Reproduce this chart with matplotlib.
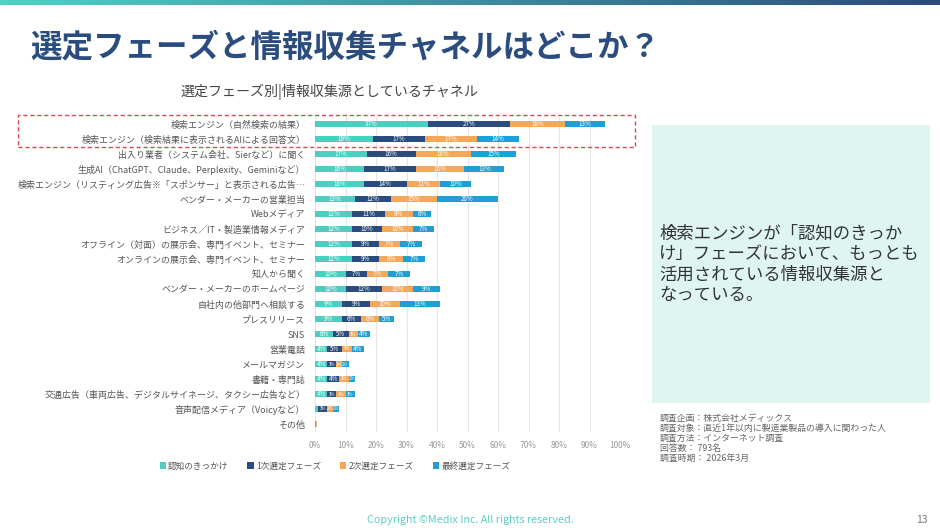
import numpy as np
import matplotlib
matplotlib.use("Agg")
import matplotlib.pyplot as plt
from matplotlib.patches import Rectangle
from matplotlib.colors import LinearSegmentedColormap

plt.rcParams["font.family"] = ["Noto Sans CJK JP", "DejaVu Sans"]

# --- data ---
channels = [
    "検索エンジン（自然検索の結果）",
    "検索エンジン（検索結果に表示されるAIによる回答文）",
    "出入り業者（システム会社、Sierなど）に聞く",
    "生成AI（ChatGPT、Claude、Perplexity、Geminiなど）",
    "検索エンジン（リスティング広告※「スポンサー」と表示される広告…",
    "ベンダー・メーカーの営業担当",
    "Webメディア",
    "ビジネス／IT・製造業情報メディア",
    "オフライン（対面）の展示会、専門イベント、セミナー",
    "オンラインの展示会、専門イベント、セミナー",
    "知人から聞く",
    "ベンダー・メーカーのホームページ",
    "自社内の他部門へ相談する",
    "プレスリリース",
    "SNS",
    "営業電話",
    "メールマガジン",
    "書籍・専門誌",
    "交通広告（車両広告、デジタルサイネージ、タクシー広告など）",
    "音声配信メディア（Voicyなど）",
    "その他",
]
phases = ["認知のきっかけ", "1次選定フェーズ", "2次選定フェーズ", "最終選定フェーズ"]
ninchi = [37, 19, 17, 16, 16, 13, 12, 12, 12, 12, 10, 10, 9, 9, 6, 4, 4, 4, 4, 1, 0.3]
first_sel = [27, 17, 16, 17, 14, 12, 11, 10, 9, 9, 7, 12, 9, 6, 5, 5, 3, 4, 3, 3, 0.1]
second_sel = [18, 17, 18, 16, 11, 15, 9, 10, 7, 8, 7, 10, 10, 6, 3, 3, 2, 3, 3, 2, 0.1]
final_sel = [13, 14, 15, 13, 10, 20, 6, 7, 7, 7, 7, 9, 13, 5, 4, 4, 2, 2, 3, 2, 0.1]
xticks = [0, 10, 20, 30, 40, 50, 60, 70, 80, 90, 100]

series = [ninchi, first_sel, second_sel, final_sel]
colors = ["#4ccfc0", "#2b4c7e", "#f5a85a", "#1f9fd5"]

W, H = 940, 528
fig = plt.figure(figsize=(W / 100, H / 100), dpi=100)
fig.patch.set_facecolor("white")

# top gradient band
band = fig.add_axes([0, 1 - 5 / H, 1, 5 / H])
band.imshow(np.linspace(0, 1, 256).reshape(1, -1), aspect="auto",
            cmap=LinearSegmentedColormap.from_list("g", ["#4fd1c5", "#2c4a7c"]))
band.axis("off")

fig.text(30 / W, 1 - 47 / H, "選定フェーズと情報収集チャネルはどこか？", fontsize=22.7,
         fontweight="bold", color="#2b4c7e", va="center", ha="left")
fig.text(329 / W, 1 - 92 / H, "選定フェーズ別|情報収集源としているチャネル", fontsize=10.1,
         color="#444444", va="center", ha="center")

# main chart
ax = fig.add_axes([315 / W, 1 - 431.5 / H, 305 / W, 315 / H])
y = np.arange(len(channels))
left = np.zeros(len(channels))
for vals, col, name in zip(series, colors, phases):
    vals = np.array(vals, dtype=float)
    bars = ax.barh(y, vals, left=left, height=0.45, color=col, label=name, zorder=3)
    for b, v in zip(bars, vals):
        if v >= 2:
            fs = 4.5 if v >= 4 else 3.2
            ax.text(b.get_x() + b.get_width() / 2, b.get_y() + b.get_height() / 2,
                    f"{v:.0f}%", color="white", fontsize=fs, ha="center", va="center", zorder=4)
    left += vals

ax.set_xlim(0, 100)
ax.set_ylim(len(channels) - 0.5, -0.5)
ax.set_yticks(y)
ax.set_yticklabels(channels, fontsize=6.45, color="#555555")
ax.set_xticks(xticks)
ax.set_xticklabels([f"{t}%" for t in xticks], fontsize=6, color="#999999")
ax.tick_params(axis="both", length=0)
ax.tick_params(axis="x", pad=7)
ax.tick_params(axis="y", pad=7)
ax.grid(axis="x", color="#e6e6e6", lw=0.8, zorder=0)
for s in ax.spines.values():
    s.set_visible(False)

handles, labels = ax.get_legend_handles_labels()
fig.legend(handles, labels, loc="center", bbox_to_anchor=(335 / W, 1 - 466 / H), ncol=4,
           fontsize=6.2, frameon=False, handlelength=0.7, handleheight=0.7,
           handletextpad=0.3, columnspacing=2.2, labelcolor="#555555")

# red dashed highlight around the first two rows
fig.add_artist(Rectangle((18 / W, 1 - 147 / H), 617 / W, 32 / H, transform=fig.transFigure,
                         fill=False, edgecolor="#e04848", lw=1, linestyle=(0, (3, 2))))

# right panel
fig.add_artist(Rectangle((652 / W, 1 - 403 / H), 278 / W, 278 / H, transform=fig.transFigure,
                         facecolor="#dff5f2", edgecolor="none"))
panel_lines = ["検索エンジンが「認知のきっか", "け」フェーズにおいて、もっとも",
               "活用されている情報収集源と", "なっている。"]
for i, line in enumerate(panel_lines):
    fig.text(659 / W, 1 - (234 + i * 20.3) / H, line, fontsize=12.5, color="#333333",
             va="center", ha="left")

notes = ["調査企画：株式会社メディックス",
         "調査対象：直近1年以内に製造業製品の導入に関わった人",
         "調査方法：インターネット調査",
         "回答数： 793名",
         "調査時期： 2026年3月"]
for i, line in enumerate(notes):
    fig.text(660 / W, 1 - (418 + i * 10.2) / H, line, fontsize=6.4, color="#666666",
             va="center", ha="left")

fig.text(470 / W, 1 - 520 / H, "Copyright ©Medix Inc. All rights reserved.", fontsize=7.75,
         color="#5ccfc0", va="center", ha="center")
fig.text(922 / W, 1 - 520 / H, "13", fontsize=7.5, color="#777777", va="center", ha="center")

fig.savefig("out.png", dpi=100)
